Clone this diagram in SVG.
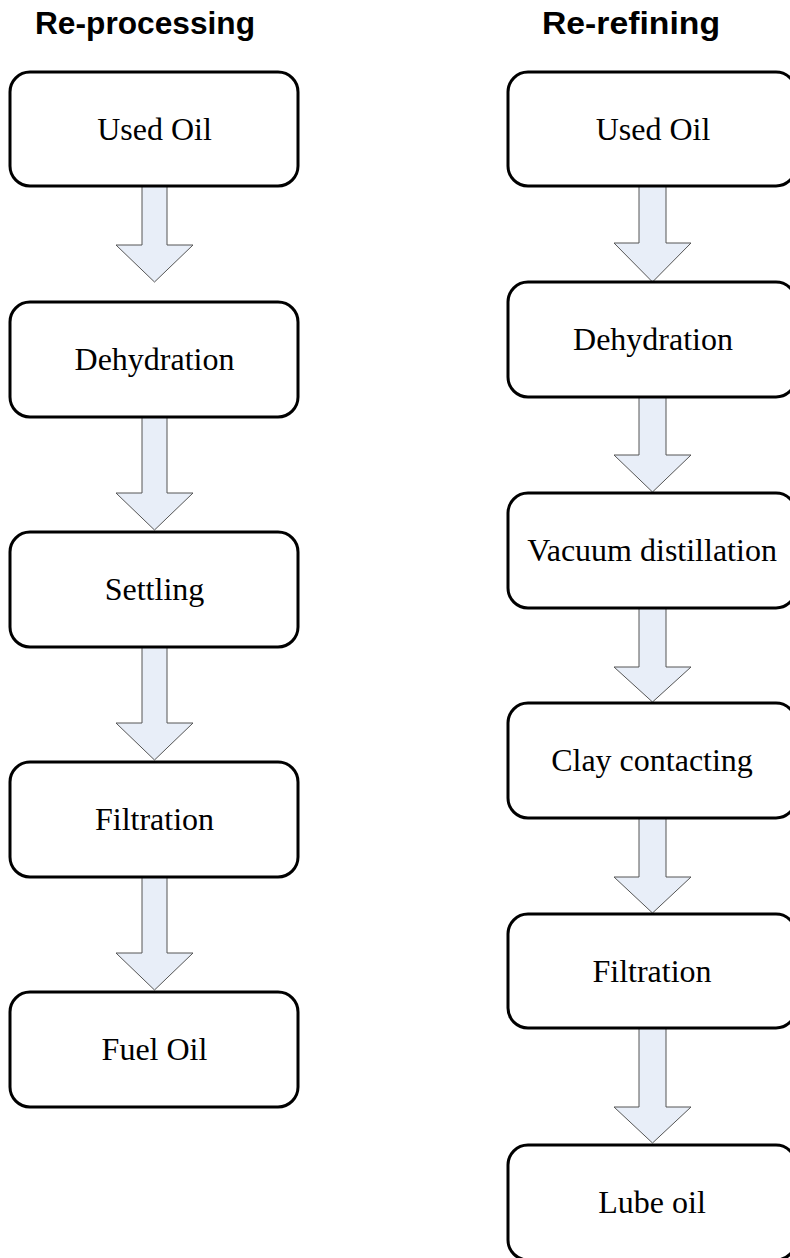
<svg xmlns="http://www.w3.org/2000/svg" width="790" height="1258" viewBox="0 0 790 1258">
<style>
.title{font-family:"Liberation Sans",Arial,sans-serif;font-weight:bold;font-size:32px;fill:#000}
.box{fill:#fff;stroke:#000;stroke-width:3}
.lbl{font-family:"Liberation Serif","Times New Roman",serif;font-size:32px;fill:#000;text-anchor:middle}
.arr{fill:#e8eef8;stroke:#555;stroke-width:1}
</style>
<rect width="790" height="1258" fill="#fff"/>
<text class="title" x="35" y="34" textLength="220" lengthAdjust="spacingAndGlyphs">Re-processing</text>
<text class="title" x="542" y="34" textLength="178" lengthAdjust="spacingAndGlyphs">Re-refining</text>
<g id="connectors">
<polygon class="arr" points="142,186 167,186 167,245 193,245 154.5,282 116,245 142,245"/>
<polygon class="arr" points="142,417 167,417 167,493 193,493 154.5,530 116,493 142,493"/>
<polygon class="arr" points="142,647 167,647 167,723 193,723 154.5,760 116,723 142,723"/>
<polygon class="arr" points="142,877 167,877 167,953 193,953 154.5,990 116,953 142,953"/>
<polygon class="arr" points="639,186 666,186 666,243 691,243 652.5,282 614,243 639,243"/>
<polygon class="arr" points="639,397 666,397 666,455 691,455 652.5,492 614,455 639,455"/>
<polygon class="arr" points="639,608 666,608 666,667 691,667 652.5,702 614,667 639,667"/>
<polygon class="arr" points="639,818 666,818 666,877 691,877 652.5,913 614,877 639,877"/>
<polygon class="arr" points="639,1028 666,1028 666,1107 691,1107 652.5,1143 614,1107 639,1107"/>
</g>
<g id="l1"><rect class="box" x="10" y="72" width="288" height="114" rx="20"/><text class="lbl" x="154.5" y="140">Used Oil</text></g>
<g id="l2"><rect class="box" x="10" y="302" width="288" height="115" rx="20"/><text class="lbl" x="154.5" y="370">Dehydration</text></g>
<g id="l3"><rect class="box" x="10" y="532" width="288" height="115" rx="20"/><text class="lbl" x="154.5" y="600">Settling</text></g>
<g id="l4"><rect class="box" x="10" y="762" width="288" height="115" rx="20"/><text class="lbl" x="154.5" y="830">Filtration</text></g>
<g id="l5"><rect class="box" x="10" y="992" width="288" height="115" rx="20"/><text class="lbl" x="154.5" y="1060">Fuel Oil</text></g>
<g id="r1"><rect class="box" x="508" y="72" width="288" height="114" rx="20"/><text class="lbl" x="653" y="140">Used Oil</text></g>
<g id="r2"><rect class="box" x="508" y="282" width="288" height="115" rx="20"/><text class="lbl" x="653" y="350">Dehydration</text></g>
<g id="r3"><rect class="box" x="508" y="493" width="288" height="115" rx="20"/><text class="lbl" x="652" y="561">Vacuum distillation</text></g>
<g id="r4"><rect class="box" x="508" y="703" width="288" height="115" rx="20"/><text class="lbl" x="652" y="771">Clay contacting</text></g>
<g id="r5"><rect class="box" x="508" y="914" width="288" height="114" rx="20"/><text class="lbl" x="652" y="982">Filtration</text></g>
<g id="r6"><rect class="box" x="508" y="1145" width="288" height="115" rx="20"/><text class="lbl" x="652" y="1213">Lube oil</text></g>
</svg>
